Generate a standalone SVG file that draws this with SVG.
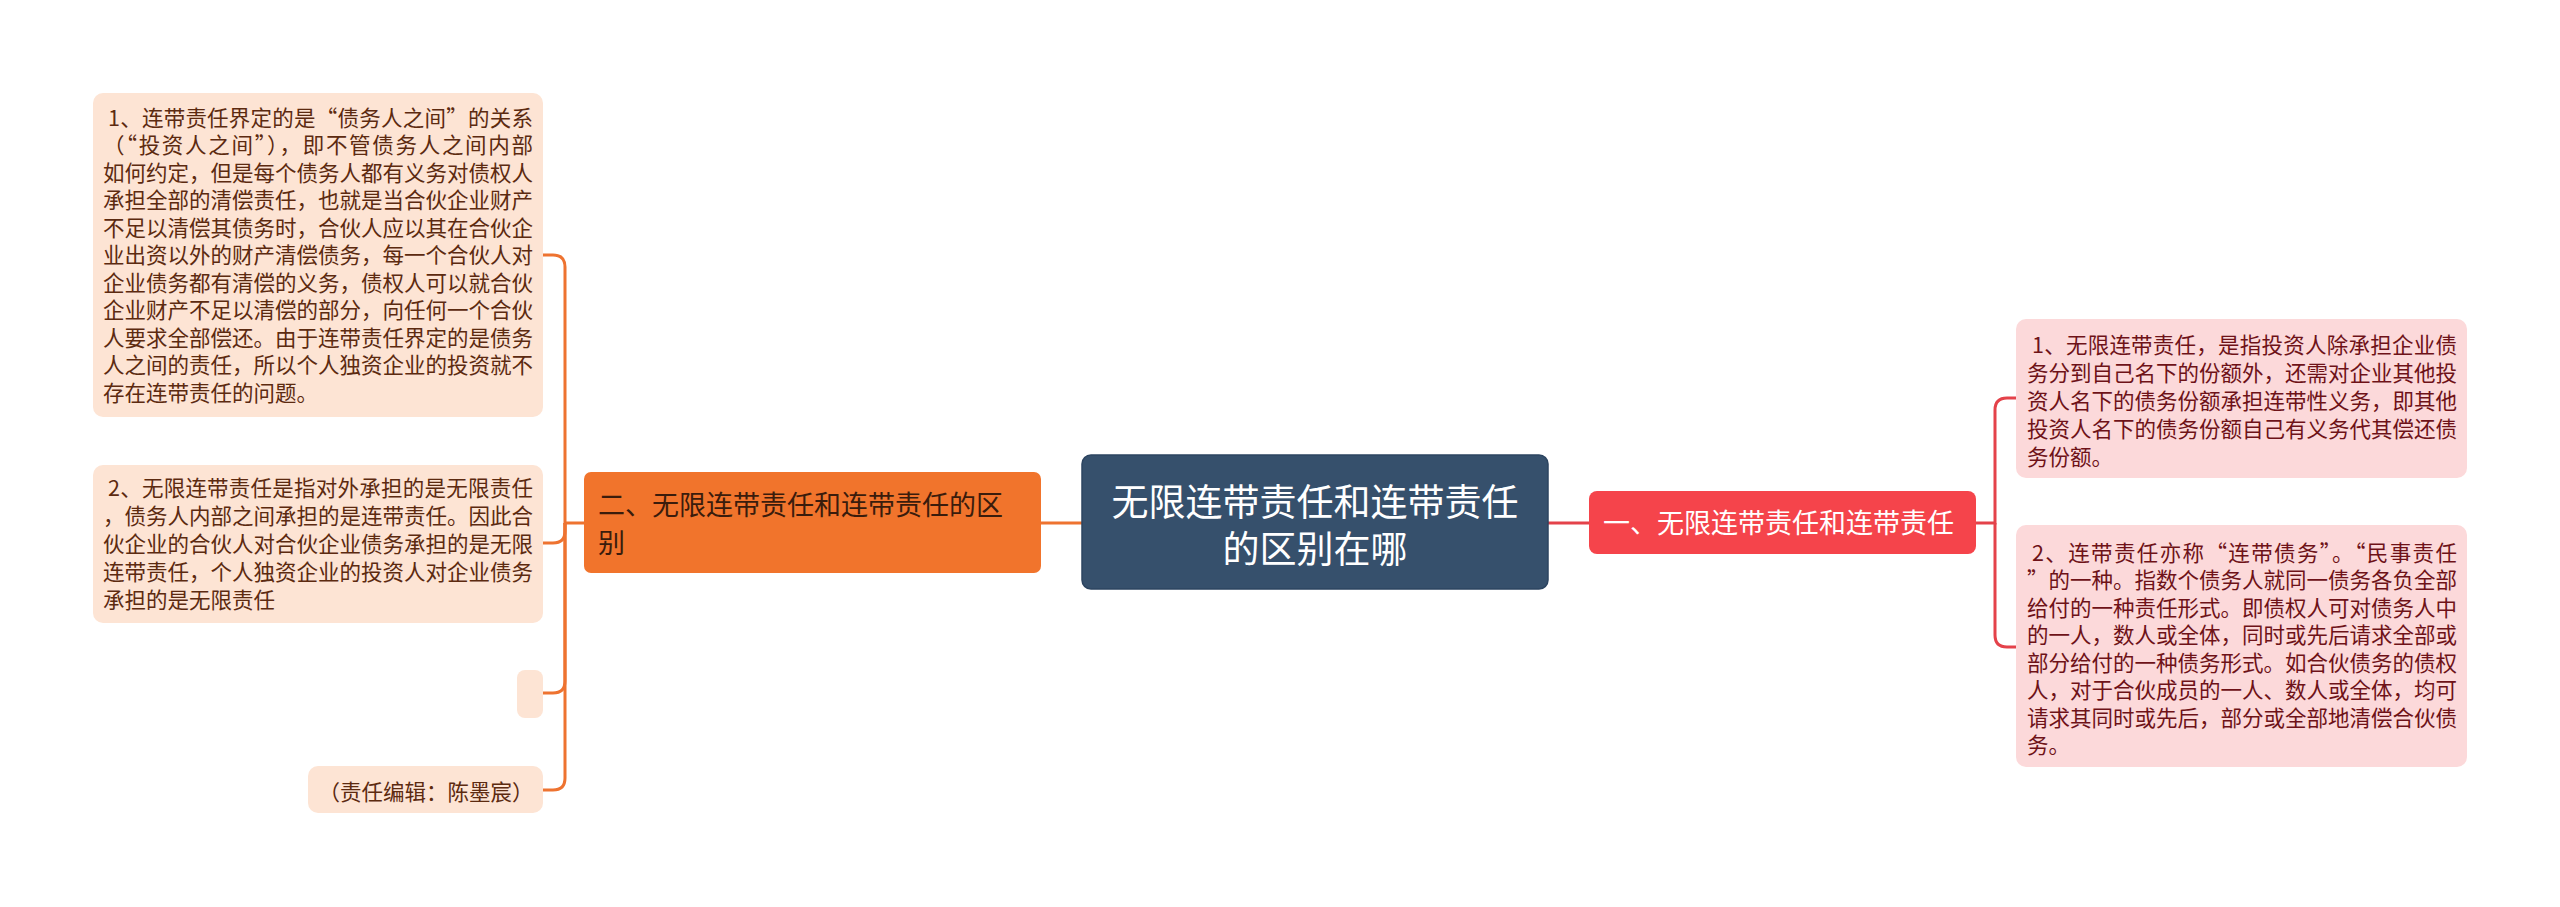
<svg xmlns="http://www.w3.org/2000/svg" width="2560" height="907" viewBox="0 0 2560 907">
<style>
text{font-family:"Microsoft YaHei","Noto Sans CJK SC","Noto Sans",sans-serif;}
.lf{fill:#fde4d4;}
.rf{fill:#fcd9da;}
.lt{font-size:21.5px;fill:#5c2a10;}
.rt{font-size:21.5px;fill:#6e1218;}
.oc{fill:none;stroke:#ee7330;stroke-width:3;}
.rc{fill:none;stroke:#e4424a;stroke-width:3;}
</style>
<rect width="2560" height="907" fill="#ffffff"/>
<g id="connectors">
<path class="oc" d="M1082 523 H1041"/>
<path class="oc" d="M584 523 H565 V267 Q565 255 553 255 H543"/>
<path class="oc" d="M565 523 V531 Q565 543 553 543 H543"/>
<path class="oc" d="M565 523 V681 Q565 693 553 693 H543"/>
<path class="oc" d="M565 523 V778 Q565 790 553 790 H543"/>
<path class="rc" d="M1548 523 H1589"/>
<path class="rc" d="M1976 523 H1995 V410 Q1995 398 2007 398 H2016"/>
<path class="rc" d="M1995 523 V635 Q1995 647 2007 647 H2016"/>
</g>
<g id="root">
<rect x="1082" y="455" width="466" height="134" rx="9" fill="#36506c" stroke="#2c4460" stroke-width="1.5"/>
<text x="1315" y="516" font-size="37" fill="#ffffff" text-anchor="middle">无限连带责任和连带责任</text>
<text x="1315" y="563" font-size="37" fill="#ffffff" text-anchor="middle">的区别在哪</text>
</g>
<g id="n-left">
<rect x="584" y="472" width="457" height="101" rx="7" fill="#f1742c"/>
<text x="598" y="514.5" font-size="27" fill="#3a1c0c">二、无限连带责任和连带责任的区</text>
<text x="598" y="552.5" font-size="27" fill="#3a1c0c">别</text>
</g>
<g id="n-right">
<rect x="1589" y="491" width="387" height="63" rx="8" fill="#f5444b"/>
<text x="1603" y="532.5" font-size="27" fill="#ffffff">一、无限连带责任和连带责任</text>
</g>
<g id="leaf-l1">
<rect class="lf" x="93" y="93" width="450" height="324" rx="10"/>
<text class="lt" x="108" y="125.5" textLength="425" lengthAdjust="spacing">1、连带责任界定的是“债务人之间”的关系</text>
<text class="lt" x="103" y="153" textLength="430" lengthAdjust="spacing">（“投资人之间”），即不管债务人之间内部</text>
<text class="lt" x="103" y="180.5" textLength="430" lengthAdjust="spacing">如何约定，但是每个债务人都有义务对债权人</text>
<text class="lt" x="103" y="208" textLength="430" lengthAdjust="spacing">承担全部的清偿责任，也就是当合伙企业财产</text>
<text class="lt" x="103" y="235.5" textLength="430" lengthAdjust="spacing">不足以清偿其债务时，合伙人应以其在合伙企</text>
<text class="lt" x="103" y="263" textLength="430" lengthAdjust="spacing">业出资以外的财产清偿债务，每一个合伙人对</text>
<text class="lt" x="103" y="290.5" textLength="430" lengthAdjust="spacing">企业债务都有清偿的义务，债权人可以就合伙</text>
<text class="lt" x="103" y="318" textLength="430" lengthAdjust="spacing">企业财产不足以清偿的部分，向任何一个合伙</text>
<text class="lt" x="103" y="345.5" textLength="430" lengthAdjust="spacing">人要求全部偿还。由于连带责任界定的是债务</text>
<text class="lt" x="103" y="373" textLength="430" lengthAdjust="spacing">人之间的责任，所以个人独资企业的投资就不</text>
<text class="lt" x="103" y="400.5">存在连带责任的问题。</text>
</g>
<g id="leaf-l2">
<rect class="lf" x="93" y="465" width="450" height="158" rx="10"/>
<text class="lt" x="108" y="495.5" textLength="425" lengthAdjust="spacing">2、无限连带责任是指对外承担的是无限责任</text>
<text class="lt" x="103" y="523.5" textLength="430" lengthAdjust="spacing">，债务人内部之间承担的是连带责任。因此合</text>
<text class="lt" x="103" y="551.5" textLength="430" lengthAdjust="spacing">伙企业的合伙人对合伙企业债务承担的是无限</text>
<text class="lt" x="103" y="579.5" textLength="430" lengthAdjust="spacing">连带责任，个人独资企业的投资人对企业债务</text>
<text class="lt" x="103" y="607.5">承担的是无限责任</text>
</g>
<g id="leaf-l3">
<rect class="lf" x="517" y="670" width="26" height="48" rx="8"/>
</g>
<g id="leaf-l4">
<rect class="lf" x="308" y="766" width="235" height="47" rx="10"/>
<text class="lt" x="426" y="799.5" text-anchor="middle">（责任编辑：陈墨宸）</text>
</g>
<g id="leaf-r1">
<rect class="rf" x="2016" y="319" width="451" height="159" rx="10"/>
<text class="rt" x="2032" y="352.5" textLength="425" lengthAdjust="spacing">1、无限连带责任，是指投资人除承担企业债</text>
<text class="rt" x="2027" y="380.5" textLength="430" lengthAdjust="spacing">务分到自己名下的份额外，还需对企业其他投</text>
<text class="rt" x="2027" y="408.5" textLength="430" lengthAdjust="spacing">资人名下的债务份额承担连带性义务，即其他</text>
<text class="rt" x="2027" y="436.5" textLength="430" lengthAdjust="spacing">投资人名下的债务份额自己有义务代其偿还债</text>
<text class="rt" x="2027" y="464.5">务份额。</text>
</g>
<g id="leaf-r2">
<rect class="rf" x="2016" y="525" width="451" height="242" rx="10"/>
<text class="rt" x="2032" y="560.5" textLength="425" lengthAdjust="spacing">2、连带责任亦称“连带债务”。“民事责任</text>
<text class="rt" x="2027" y="588" textLength="430" lengthAdjust="spacing">”的一种。指数个债务人就同一债务各负全部</text>
<text class="rt" x="2027" y="615.5" textLength="430" lengthAdjust="spacing">给付的一种责任形式。即债权人可对债务人中</text>
<text class="rt" x="2027" y="643" textLength="430" lengthAdjust="spacing">的一人，数人或全体，同时或先后请求全部或</text>
<text class="rt" x="2027" y="670.5" textLength="430" lengthAdjust="spacing">部分给付的一种债务形式。如合伙债务的债权</text>
<text class="rt" x="2027" y="698" textLength="430" lengthAdjust="spacing">人，对于合伙成员的一人、数人或全体，均可</text>
<text class="rt" x="2027" y="725.5" textLength="430" lengthAdjust="spacing">请求其同时或先后，部分或全部地清偿合伙债</text>
<text class="rt" x="2027" y="753">务。</text>
</g>
</svg>
